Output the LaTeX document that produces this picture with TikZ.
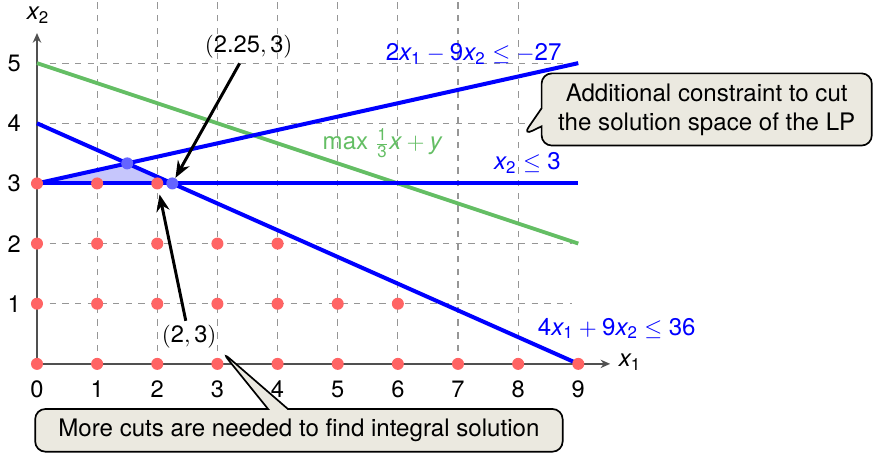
\documentclass[tikz,border=0pt]{standalone}
\usepackage{amsmath}
\usepackage{fontspec}
\setmainfont{TeX Gyre Heros}
\usetikzlibrary{arrows.meta,shapes.callouts}
\definecolor{ptred}{RGB}{255,100,100}
\definecolor{ptblue}{RGB}{100,100,255}
\definecolor{objgreen}{RGB}{100,190,100}
\definecolor{calloutfill}{RGB}{235,233,224}
\definecolor{axisgray}{RGB}{80,80,80}
\definecolor{gridgray}{RGB}{150,150,150}
\definecolor{regionfill}{RGB}{198,198,252}
\newcommand\xv[1]{\text{\itshape x}_{\text{#1}}}
\newcommand\tn[1]{\text{#1}}
\begin{document}
\begin{tikzpicture}[
  big/.style={font=\fontsize{11.4}{13.7}\selectfont},
  small/.style={font=\fontsize{11.2}{13.4}\selectfont},
  gridline/.style={gridgray, dashed, line width=0.5pt},
  axisline/.style={axisgray, line width=0.6pt, -{Stealth[length=1.6mm,width=1.4mm]}},
  constraint/.style={blue, line width=1.9pt},
  objective/.style={objgreen, line width=1.8pt},
  intpt/.style={circle, fill=ptred, inner sep=0pt, minimum size=0.2cm},
  vertpt/.style={circle, fill=ptblue, inner sep=0pt, minimum size=0.2cm},
  ptarrow/.style={black, line width=1.4pt, -{Stealth[length=2.8mm,width=2.2mm]}},
  note/.style={big, rectangle callout, draw=black, fill=calloutfill, line width=0.8pt, rounded corners=0.17cm, align=center, inner sep=0pt},
]
\useasboundingbox (-0.615,-1.48) rectangle (13.9,6.05);
% grid
\foreach \x in {1,...,8} \draw[gridline] (\x,0) -- (\x,6.05);
\foreach \y in {1,...,5} \draw[gridline] (0,\y) -- (8.9,\y);
% region
\fill[regionfill] (0,3) -- (1.5,10/3) -- (2.25,3) -- cycle;
% axes
\coordinate (O) at (0,0);
\coordinate (xend) at (9.53,0);
\coordinate (yend) at (0,5.5);
\draw[axisline] (O) -- (xend);
\draw[axisline] (O) -- (yend);
\node[big, anchor=base] (xonelabel) at (9.86,-0.05) {$\xv{1}$};
\node[big, anchor=base] (xtwolabel) at (0.02,5.72) {$\xv{2}$};
\foreach \x in {0,...,9} \node[small, anchor=base] (tx\x) at (\x,-0.565) {\x};
\foreach \y in {1,...,5} \node[small, anchor=base] (ty\y) at (-0.38,\y-0.14) {\y};
% lines
\coordinate (g0) at (0,5);
\coordinate (g9) at (9,2);
\coordinate (a0) at (0,3);
\coordinate (a9) at (9,5);
\coordinate (b0) at (0,3);
\coordinate (b9) at (9,3);
\coordinate (c0) at (0,4);
\coordinate (c9) at (9,0);
\draw[objective] (g0) -- (g9);
\draw[constraint] (a0) -- (a9);
\draw[constraint] (b0) -- (b9);
\draw[constraint] (c0) -- (c9);
% integer points
\foreach \x in {0,...,9} \node[intpt] (z-\x-0) at (\x,0) {};
\foreach \x in {0,...,6} \node[intpt] (z-\x-1) at (\x,1) {};
\foreach \x in {0,...,4} \node[intpt] (z-\x-2) at (\x,2) {};
\foreach \x in {0,...,2} \node[intpt] (z-\x-3) at (\x,3) {};
% vertices
\node[vertpt] (v1) at (1.5,10/3) {};
\node[vertpt] (v2) at (2.25,3) {};
% labels
\node[big, text=blue, anchor=base] (lc1) at (7.26,5.05) {$\tn{2}\xv{1} - \tn{9}\xv{2} \leq -\tn{27}$};
\node[big, text=objgreen, anchor=base] (lobj) at (5.74,3.56) {$\tn{max}\ \frac{\tn{1}}{\tn{3}}\text{\itshape x} + \text{\itshape y}$};
\node[big, text=blue, anchor=base] (lc2) at (8.155,3.225) {$\xv{2} \leq \tn{3}$};
\node[big, text=blue, anchor=base] (lc3) at (9.64,0.48) {$\tn{4}\xv{1} + \tn{9}\xv{2} \leq \tn{36}$};
\node[small, anchor=base, inner sep=2pt] (l225) at (3.52,5.17) {$(\tn{2.25}, \tn{3})$};
\node[small, anchor=base, inner sep=2pt] (l23) at (2.53,0.35) {$(\tn{2}, \tn{3})$};
% arrows
\draw[ptarrow] (l225) -- (v2);
\draw[ptarrow, shorten >=0.08cm] (l23) -- (z-2-3);
% callouts
\coordinate (tipA) at (8.08,3.8);
\coordinate (tipB) at (3.075,0.2);
\node[note, callout absolute pointer={(tipA)}, callout pointer width=0.3cm, minimum width=5.49cm, minimum height=1.2cm] (noteA) at (11.135,4.23) {Additional constraint to cut\\the solution space of the LP};
\node[note, callout absolute pointer={(tipB)}, callout pointer width=0.33cm, minimum width=8.77cm, minimum height=0.71cm] (noteB) at (4.355,-1.105) {More cuts are needed to find integral solution};
\end{tikzpicture}
\end{document}
